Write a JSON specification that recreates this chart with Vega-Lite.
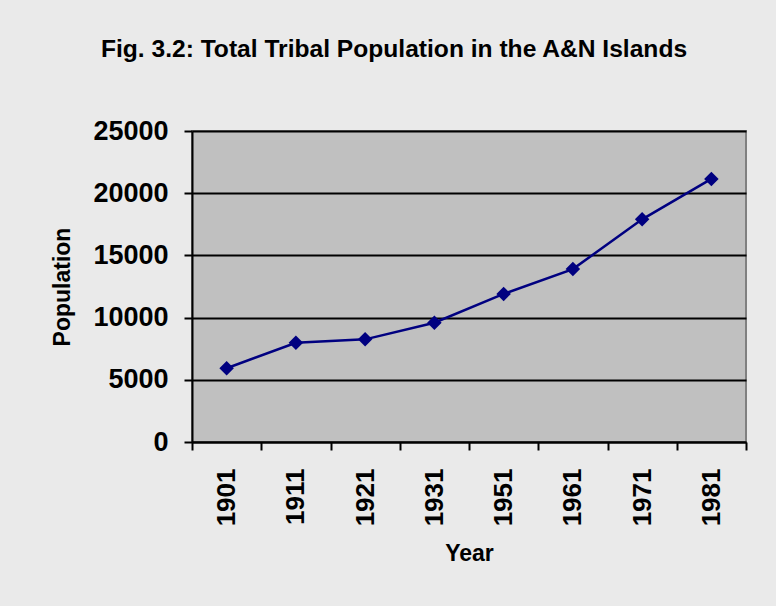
{
  "$schema": "https://vega.github.io/schema/vega-lite/v6.json",
  "width": 554,
  "height": 311,
  "autosize": "none",
  "padding": {"left": 192, "top": 131, "right": 30, "bottom": 164},
  "background": "#eaeaea",
  "title": {
    "text": "Fig. 3.2: Total Tribal Population in the A&N Islands",
    "font": "Liberation Sans",
    "fontSize": 24.6,
    "fontWeight": "bold",
    "color": "#000000",
    "anchor": "middle",
    "frame": "group",
    "baseline": "bottom",
    "dx": -75,
    "offset": 30
  },
  "data": {
    "values": [
      {"year": "1901", "population": 5930},
      {"year": "1911", "population": 7980},
      {"year": "1921", "population": 8250},
      {"year": "1931", "population": 9590},
      {"year": "1951", "population": 11900},
      {"year": "1961", "population": 13900},
      {"year": "1971", "population": 17900},
      {"year": "1981", "population": 21150}
    ]
  },
  "encoding": {
    "x": {
      "field": "year",
      "type": "ordinal",
      "bandPosition": 0.5,
      "scale": {"type": "band", "paddingInner": 0, "paddingOuter": 0},
      "axis": {
        "title": "Year",
        "tickBand": "extent",
        "labelAngle": 270,
        "labelAlign": "right",
        "labelBaseline": "middle",
        "labelPadding": 18,
        "labelFont": "Liberation Sans",
        "labelFontSize": 26,
        "labelFontWeight": "bold",
        "labelColor": "#000000",
        "titleFont": "Liberation Sans",
        "titleFontSize": 23,
        "titleFontWeight": "bold",
        "titleColor": "#000000",
        "titlePadding": 17,
        "domainColor": "#000000",
        "domainWidth": 2,
        "tickColor": "#000000",
        "tickWidth": 2,
        "tickSize": 8,
        "grid": false
      }
    },
    "y": {
      "field": "population",
      "type": "quantitative",
      "scale": {"domain": [0, 25000], "nice": false},
      "axis": {
        "title": "Population",
        "values": [0, 5000, 10000, 15000, 20000, 25000],
        "format": "d",
        "labelPadding": 16,
        "labelFont": "Liberation Sans",
        "labelFontSize": 27,
        "labelFontWeight": "bold",
        "labelColor": "#000000",
        "titleFont": "Liberation Sans",
        "titleFontSize": 23,
        "titleFontWeight": "bold",
        "titleColor": "#000000",
        "titlePadding": 18,
        "domainColor": "#000000",
        "domainWidth": 2,
        "tickColor": "#000000",
        "tickWidth": 2,
        "tickSize": 8,
        "grid": true,
        "gridColor": "#000000",
        "gridWidth": 2,
        "gridOpacity": 1
      }
    }
  },
  "layer": [
    {"mark": {"type": "line", "color": "#000080", "strokeWidth": 2.5}},
    {"mark": {"type": "point", "shape": "diamond", "filled": true, "size": 210, "color": "#000080", "opacity": 1}}
  ],
  "config": {
    "view": {"fill": "#c0c0c0", "stroke": "#808080", "strokeWidth": 2}
  }
}
